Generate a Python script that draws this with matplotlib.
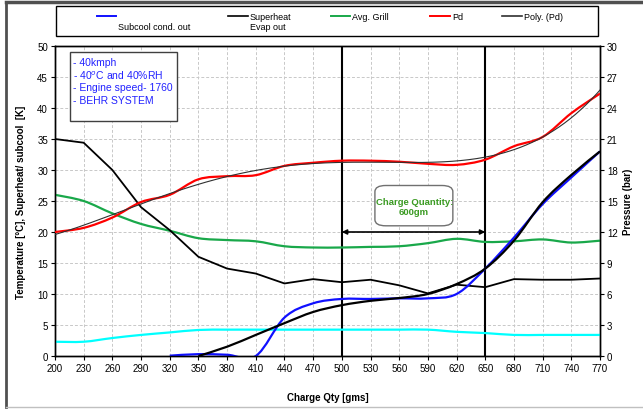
import numpy as np
import matplotlib
matplotlib.use("Agg")
import matplotlib.pyplot as plt
from matplotlib.path import Path
from matplotlib.patches import PathPatch, Rectangle, FancyBboxPatch
from matplotlib.lines import Line2D

plt.rcParams['font.family'] = ['Liberation Sans', 'DejaVu Sans']

# charge quantity categories [gms]
charge = [200, 230, 260, 290, 320, 350, 380, 410, 440, 470,
          500, 530, 560, 590, 620, 650, 680, 710, 740, 770]

# left axis series (temperature / K)
subcool = [np.nan, np.nan, np.nan, np.nan, 0.05, 0.3, 0.2, 0, 6.2, 8.5,
           9.2, 9.2, 9.3, 9.3, 10.0, 14.1, 19.1, 24.5, 28.8, 33.0]
superheat = [35.0, 34.4, 30.0, 24.0, 20.3, 16.0, 14.1, 13.3, 11.7, 12.4,
             11.9, 12.3, 11.4, 10.1, 11.5, 11.1, 12.4, 12.3, 12.3, 12.5]
avg_grill = [26.0, 25.0, 23.0, 21.3, 20.2, 19.0, 18.7, 18.5, 17.7, 17.5,
             17.5, 17.6, 17.7, 18.2, 18.9, 18.4, 18.5, 18.8, 18.3, 18.6]
subcool_trend = [np.nan, np.nan, np.nan, np.nan, np.nan, 0, 1.5, 3.4, 5.3, 7.1,
                 8.2, 8.9, 9.35, 10.0, 11.6, 14.1, 18.6, 24.8, 29.2, 33.0]
cyan_line = [2.3, 2.3, 2.9, 3.4, 3.8, 4.2, 4.25, 4.25, 4.25, 4.25,
             4.25, 4.25, 4.25, 4.25, 3.9, 3.7, 3.4, 3.4, 3.4, 3.4]

# right axis (pressure, bar)
pd_bar = [12.0, 12.4, 13.4, 14.9, 15.6, 17.1, 17.4, 17.5, 18.4, 18.7,
          18.9, 18.9, 18.8, 18.6, 18.5, 19.0, 20.3, 21.2, 23.5, 25.4]

info_lines = ["- 40kmph", "- 40$^o$C and 40%RH", "- Engine speed- 1760", "- BEHR SYSTEM"]


def smooth_path(x, y):
    # excel style smoothed line (catmull-rom -> bezier)
    x = np.asarray(x, float)
    y = np.asarray(y, float)
    ok = np.isfinite(y)
    pts = np.column_stack([x[ok], y[ok]])
    n = len(pts)
    verts = [pts[0]]
    codes = [Path.MOVETO]
    for i in range(n - 1):
        p0 = pts[max(i - 1, 0)]
        p1 = pts[i]
        p2 = pts[i + 1]
        p3 = pts[min(i + 2, n - 1)]
        verts += [p1 + (p2 - p0) / 6, p2 - (p3 - p1) / 6, p2]
        codes += [Path.CURVE4] * 3
    return Path(verts, codes)


fig = plt.figure(figsize=(6.43, 4.10), dpi=100)
ax = fig.add_axes([55 / 643, 1 - 357 / 410, 545 / 643, 310 / 410])
ax2 = ax.twinx()

ax.set_xlim(200, 770)
ax.set_ylim(0, 50)
ax2.set_ylim(0, 30)
ax.set_xticks(charge)
ax.set_yticks(np.arange(0, 51, 5))
ax2.set_yticks(np.arange(0, 31, 3))
ax.grid(True, color='#c8c8c8', linestyle=(0, (3, 2)), linewidth=0.7)
ax.set_axisbelow(True)

for a in (ax, ax2):
    a.tick_params(labelsize=7, length=3, width=0.8, pad=2)
    for s in a.spines.values():
        s.set_linewidth(1.0)

ax.axvline(500, color='black', lw=1.5, zorder=3)
ax.axvline(650, color='black', lw=1.5, zorder=3)

ax.add_patch(PathPatch(smooth_path(charge, cyan_line), fill=False, edgecolor='#00ffff', lw=1.6, zorder=4))
ax.add_patch(PathPatch(smooth_path(charge, avg_grill), fill=False, edgecolor='#19a84a', lw=1.6, zorder=4))
ax.plot(charge, superheat, color='black', lw=1.3, zorder=4)
ax.add_patch(PathPatch(smooth_path(charge, subcool), fill=False, edgecolor='#1010ff', lw=1.6, zorder=4))
ax.add_patch(PathPatch(smooth_path(charge, subcool_trend), fill=False, edgecolor='black', lw=1.6, zorder=5))

# Pd and its polynomial trendline
ax2.add_patch(PathPatch(smooth_path(charge, pd_bar), fill=False, edgecolor='#ff0000', lw=1.6, zorder=4))
coef = np.polyfit(charge, pd_bar, 4)
xx = np.linspace(200, 770, 200)
ax2.plot(xx, np.polyval(coef, xx), color='#303030', lw=0.8, zorder=5)

ax.annotate('', xy=(650, 20), xytext=(500, 20),
            arrowprops=dict(arrowstyle='<|-|>', color='black', lw=1.2, mutation_scale=7,
                            shrinkA=0, shrinkB=0), zorder=6)

# info box
ax.add_patch(Rectangle((0.0275, 0.758), 0.1964, 0.2226, transform=ax.transAxes,
                       facecolor='white', edgecolor='#404040', lw=1.0, zorder=7))
for i, t in enumerate(info_lines):
    ax.text(0.033, 0.948 - i * 0.0405, t, transform=ax.transAxes, color='#2222ff',
            fontsize=7.5, va='center', ha='left', zorder=8)

# charge quantity box
ax.add_patch(FancyBboxPatch((0.597, 0.43), 0.123, 0.11, transform=ax.transAxes,
                            boxstyle='round,pad=0.01,rounding_size=0.02',
                            facecolor='white', edgecolor='#707070', lw=1.0, zorder=7))
ax.text(0.659, 0.497, 'Charge Quantity:', transform=ax.transAxes, color='#3a9a22',
        fontsize=6.8, fontweight='bold', ha='center', va='center', zorder=8)
ax.text(0.659, 0.466, '600gm', transform=ax.transAxes, color='#3a9a22',
        fontsize=6.8, fontweight='bold', ha='center', va='center', zorder=8)

ax.set_xlabel('Charge Qty [gms]', fontsize=7, fontweight='bold', labelpad=14)
ax.set_ylabel('Temperature [°C], Superheat/ subcool  [K]', fontsize=7, fontweight='bold', labelpad=8)
ax2.set_ylabel('Pressure (bar)', fontsize=7, fontweight='bold', labelpad=4)

# legend drawn by hand above plot (labels wrap like the original)
W, H = 643.0, 410.0
fig.add_artist(Rectangle((56 / W, 1 - 37 / H), 542 / W, 30 / H, transform=fig.transFigure,
                         facecolor='white', edgecolor='black', lw=1.0))
legend_items = [
    (97, 116, '#1010ff', 1.4, ['', 'Subcool cond. out']),
    (228, 248, 'black', 1.2, ['Superheat', 'Evap out']),
    (331, 350, '#19a84a', 1.4, ['Avg. Grill']),
    (430, 450, '#ff0000', 1.4, ['Pd']),
    (502, 522, '#303030', 1.2, ['Poly. (Pd)']),
]
for x0, x1, col, lw, labels in legend_items:
    fig.add_artist(Line2D([x0 / W, x1 / W], [1 - 17 / H, 1 - 17 / H], color=col, lw=lw,
                          transform=fig.transFigure))
    for j, lab in enumerate(labels):
        if lab:
            fig.text((x1 + 2) / W, 1 - (17 + 11 * j) / H, lab, fontsize=6.5,
                     ha='left', va='center')

# outer frame
fig.add_artist(Line2D([6 / W, 6 / W], [2 / H, 1 - 3 / H], color='#505050', lw=2, transform=fig.transFigure))
fig.add_artist(Line2D([6 / W, 1], [1 - 3 / H, 1 - 3 / H], color='#505050', lw=2.5, transform=fig.transFigure))
fig.add_artist(Line2D([6 / W, 1], [2 / H, 2 / H], color='#c0c0c0', lw=1, transform=fig.transFigure))

fig.savefig('out.png', dpi=100)
